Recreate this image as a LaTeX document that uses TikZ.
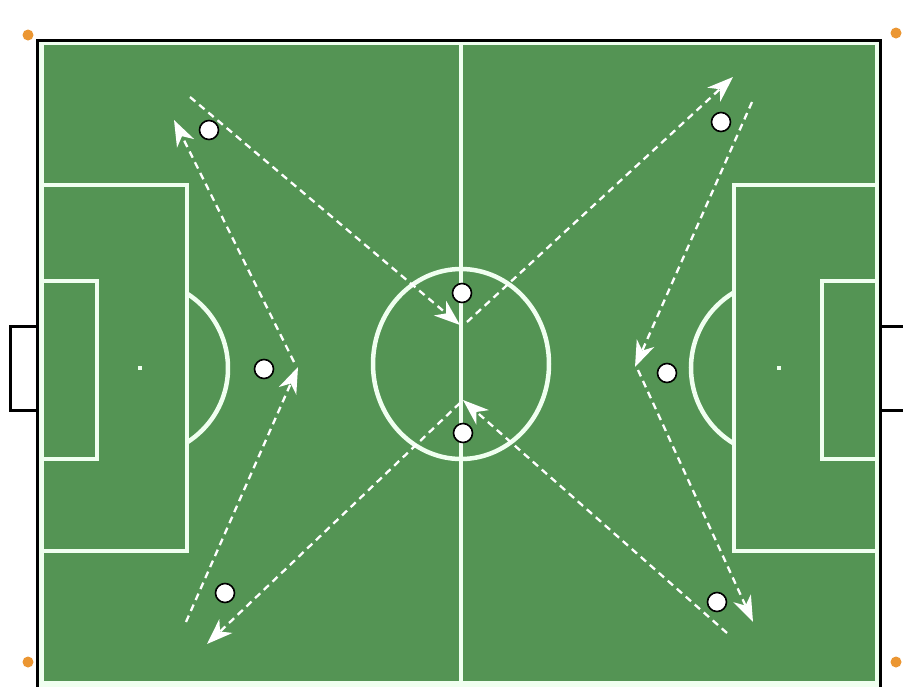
\documentclass[tikz,border=0pt]{standalone}
\usetikzlibrary{arrows.meta}
\definecolor{pitch}{RGB}{84,148,84}
\definecolor{chalk}{RGB}{240,255,240}
\definecolor{flagc}{RGB}{235,150,50}
\tikzset{
  chalkline/.style={draw=chalk, line width=4.5pt},
  goalframe/.style={draw=black, line width=3pt},
  player/.style={circle, draw=black, fill=white, line width=1.6pt, minimum size=19pt, inner sep=0pt},
  run/.style={draw=white, line width=2.3pt, dash pattern=on 7pt off 5pt,
    -{Stealth[length=26pt,width=19pt,inset=8pt]}},
  cornerflag/.style={fill=flagc},
}
\begin{document}
\begin{tikzpicture}[x=1pt,y=-1pt]
\useasboundingbox (0,0) rectangle (903,686);
\clip (0,0) rectangle (903,686);
\fill[white] (0,0) rectangle (903,686);
% goals
\draw[goalframe] (38,326.5) -- (10,326.5) -- (10,410) -- (38,410);
\draw[goalframe] (880,326.5) -- (910,326.5) -- (910,410) -- (880,410);
% pitch surface
\fill[chalk] (38,40) rectangle (881,700);
\fill[pitch] (44,45) rectangle (875,681);
\draw[black, line width=3pt] (37.5,700) -- (37.5,40.5) -- (880.5,40.5) -- (880.5,700);
% halfway line and centre circle
\draw[chalk, line width=3.5pt] (461,45) -- (461,681);
\draw[chalkline] (461,364) ellipse [x radius=88, y radius=95];
% left penalty area
\draw[chalkline] (44,185) -- (187,185) -- (187,551) -- (44,551);
\draw[chalkline] (44,281) -- (97,281) -- (97,459) -- (44,459);
\draw[chalkline] (140,368) ++(-57.7:88) arc[start angle=-57.7, end angle=57.7, radius=88];
\fill[chalk] (138,366) rectangle (142,370);
% right penalty area
\draw[chalkline] (875,185) -- (734,185) -- (734,551) -- (875,551);
\draw[chalkline] (875,281) -- (822,281) -- (822,459) -- (875,459);
\draw[chalkline] (779,368) ++(121.5:88) arc[start angle=121.5, end angle=238.5, radius=88];
\fill[chalk] (777,366) rectangle (781,370);
% corner flags
\fill[cornerflag] (28,35) circle (5.5);
\fill[cornerflag] (896,33) circle (5.5);
\fill[cornerflag] (28,662) circle (5.5);
\fill[cornerflag] (896,662) circle (5.5);
% run coordinates
\coordinate (a1s) at (190,97);  \coordinate (a1e) at (460,325);
\coordinate (a2s) at (467,322); \coordinate (a2e) at (733,77);
\coordinate (a3s) at (752,102); \coordinate (a3e) at (635,367);
\coordinate (a4s) at (638,370); \coordinate (a4e) at (753,622);
\coordinate (a5s) at (727,633); \coordinate (a5e) at (463,400);
\coordinate (a6s) at (460,403); \coordinate (a6e) at (207,644);
\coordinate (a7s) at (186,622); \coordinate (a7e) at (298,367);
\coordinate (a8s) at (294,362); \coordinate (a8e) at (174,120);
\foreach \i in {1,...,8} { \draw[run] (a\i s) -- (a\i e); }
% players
\node[player] (p1) at (209,130) {};
\node[player] (p2) at (264,369) {};
\node[player] (p3) at (225,593) {};
\node[player] (p4) at (462,293) {};
\node[player] (p5) at (463,433) {};
\node[player] (p6) at (721,122) {};
\node[player] (p7) at (667,373) {};
\node[player] (p8) at (717,602) {};
\end{tikzpicture}
\end{document}
